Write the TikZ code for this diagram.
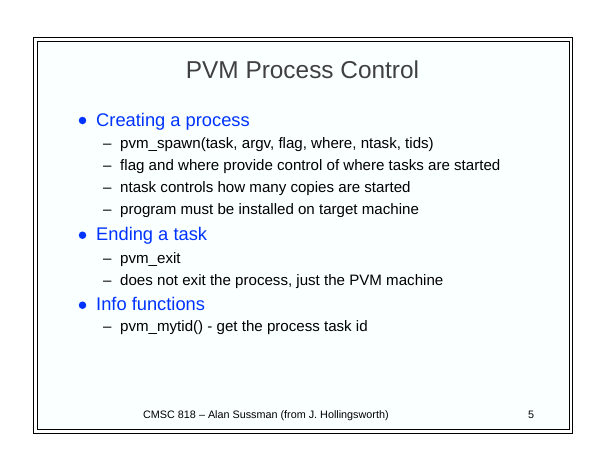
\documentclass[tikz,border=0pt]{standalone}
\usepackage{fontspec}
\setmainfont{Liberation Sans}
\usetikzlibrary{positioning}

\definecolor{titlegray}{RGB}{64,64,64}
\definecolor{headblue}{RGB}{0,51,255}
\definecolor{slidebg}{RGB}{250,255,255}

\tikzset{
  head/.style = {anchor=base west, inner sep=0pt, text=headblue, font=\fontsize{18.3}{20}\selectfont},
  item/.style = {anchor=base west, inner sep=0pt, font=\fontsize{15.1}{17}\selectfont},
  dot/.style = {circle, fill=headblue, inner sep=0pt, minimum size=7.5pt},
  foot/.style = {anchor=base west, inner sep=0pt, font=\fontsize{10.8}{12}\selectfont},
}

\begin{document}
\begin{tikzpicture}[x=1pt, y=-1pt]
    \useasboundingbox (0,0) rectangle (605,467);
    \draw[line width=1pt] (33,37) rectangle (572.5,433);
    \draw[line width=1pt, fill=slidebg] (37,41.5) rectangle (569,429.5);

    \node[anchor=base, inner sep=0pt, text=titlegray, font=\fontsize{24.4}{28}\selectfont] (title) at (302.5,78) {PVM Process Control};

    % first block
    \node[head] (create) at (96,126) {Creating a process};
    \node[dot] (b1) at (82.5,120.5) {};
    \node[item] (d11) at (103,148.6) {--};
    \node[item] (spawn) at (120,148.6) {pvm\_spawn(task, argv, flag, where, ntask, tids)};
    \node[item] (d12) at (103,170.6) {--};
    \node[item] (flag) at (120,170.6) {flag and where provide control of where tasks are started};
    \node[item] (d13) at (103,192.6) {--};
    \node[item] (ntask) at (120,192.6) {ntask controls how many copies are started};
    \node[item] (d14) at (103,214.6) {--};
    \node[item] (prog) at (120,214.6) {program must be installed on target machine};

    % second block
    \node[head] (ending) at (96,240.7) {Ending a task};
    \node[dot] (b2) at (82.5,235.2) {};
    \node[item] (d21) at (103,263.3) {--};
    \node[item] (exit) at (120,263.3) {pvm\_exit};
    \node[item] (d22) at (103,285.3) {--};
    \node[item] (noexit) at (120,285.3) {does not exit the process, just the PVM machine};

    % third block
    \node[head] (info) at (96,310.7) {Info functions};
    \node[dot] (b3) at (82.5,305.2) {};
    \node[item] (d31) at (103,331.7) {--};
    \node[item] (mytid) at (120,331.7) {pvm\_mytid() - get the process task id};

    \node[foot] (footer) at (143,418.5) {CMSC 818 -- Alan Sussman (from J. Hollingsworth)};
    \node[foot] (page) at (528,418.5) {5};
\end{tikzpicture}
\end{document}
